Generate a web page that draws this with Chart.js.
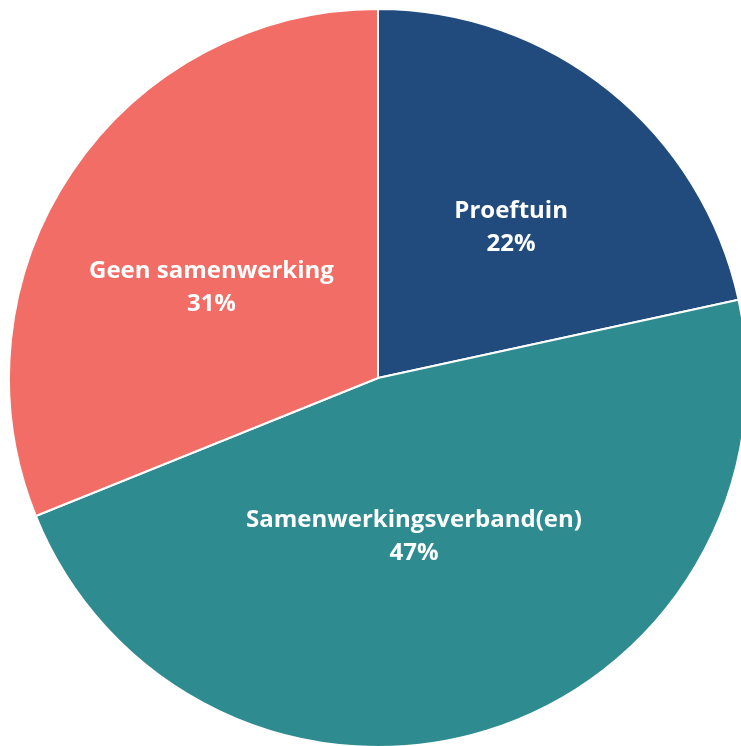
<!DOCTYPE html>
<html>
<head>
<meta charset="utf-8">
<script src="https://cdn.jsdelivr.net/npm/chart.js@4/dist/chart.umd.min.js"></script>
<style>
  html, body { margin: 0; padding: 0; background: #fff; overflow: hidden; }
  #wrap { position: absolute; left: 8px; top: 8px; width: 740px; height: 740px; }
</style>
</head>
<body>
<div id="wrap"><canvas id="pie" width="740" height="740"></canvas></div>
<script>
const categories = ["Proeftuin", "Samenwerkingsverband(en)", "Geen samenwerking"];
const shares = [21.6, 47.3, 31.1];
const sliceColors = ["#214A7D", "#2E8B8F", "#F26D66"];

// label distance from centre, as fraction of radius, per slice
const labelRadius = [0.545, 0.44, 0.514];
const labelShift = [0.045, 0.075, -0.095]; // small angle nudges (rad)

const sliceLabels = {
  id: "sliceLabels",
  afterDatasetsDraw(chart) {
    const ctx = chart.ctx;
    const meta = chart.getDatasetMeta(0);
    ctx.save();
    ctx.fillStyle = "#fff";
    ctx.textAlign = "center";
    ctx.textBaseline = "middle";
    ctx.font = "bold 24px 'Open Sans', Lato, sans-serif";
    meta.data.forEach((arc, i) => {
      const mid = (arc.startAngle + arc.endAngle) / 2 + labelShift[i];
      const r = arc.outerRadius * labelRadius[i];
      const x = arc.x + Math.cos(mid) * r;
      const y = arc.y + Math.sin(mid) * r;
      ctx.fillText(categories[i], x, y - 16);
      ctx.fillText(Math.round(shares[i]) + "%", x, y + 17);
    });
    ctx.restore();
  }
};

new Chart(document.getElementById("pie"), {
  type: "pie",
  data: {
    labels: categories,
    datasets: [{
      data: shares,
      backgroundColor: sliceColors,
      borderColor: "#fff",
      borderWidth: 2,
    }],
  },
  options: {
    responsive: false,
    animation: false,
    layout: { padding: 0 },
    plugins: {
      legend: { display: false },
      tooltip: { enabled: false },
    },
  },
  plugins: [sliceLabels],
});
</script>
</body>
</html>
